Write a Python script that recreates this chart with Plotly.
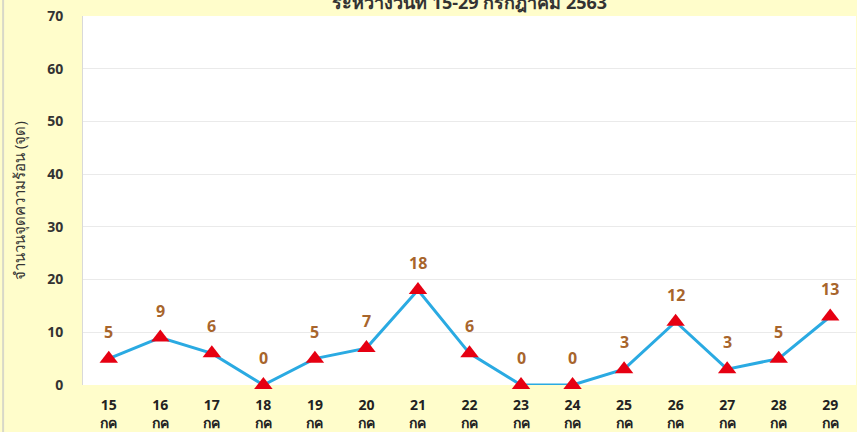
import plotly.graph_objects as go

days = ["15", "16", "17", "18", "19", "20", "21", "22", "23", "24", "25", "26", "27", "28", "29"]
month = "กค"
hotspots = [5, 9, 6, 0, 5, 7, 18, 6, 0, 0, 3, 12, 3, 5, 13]
title_text = "ระหว่างวันที่ 15-29 กรกฎาคม 2563"
y_title = "จำนวนจุดความร้อน (จุด)"

cats = [f"{d}<br>{month}" for d in days]

fig = go.Figure()
fig.add_trace(go.Scatter(
    x=cats, y=hotspots, mode="lines+markers",
    line=dict(color="#2AAAE2", width=3),
    marker=dict(symbol="triangle-up", size=16, color="#E60012"),
    cliponaxis=False, showlegend=False,
))

value_labels = [dict(x=c, y=v, text=str(v), xref="x", yref="y", showarrow=False,
                     yshift=27, font=dict(family="Open Sans", size=16, color="#A8652C", weight="bold"))
                for c, v in zip(cats, hotspots)]

fig.update_layout(
    width=857, height=432,
    margin=dict(l=83, r=1, t=16, b=47, autoexpand=False),
    paper_bgcolor="#FFFDCB", plot_bgcolor="#FFFFFF",
    font=dict(family="Open Sans", color="#333333"),
    xaxis=dict(type="category", range=[-0.5, 14.5], showgrid=False, automargin=False,
               tickfont=dict(size=14, color="#222222", weight="bold"),
               ticks="", showline=False, zeroline=False, ticklabelstandoff=10),
    yaxis=dict(range=[0, 70], dtick=10, showgrid=True, gridcolor="#EAEAEA", automargin=False,
               tickfont=dict(size=14, color="#333333", weight="bold"),
               showline=True, linecolor="#D9D9D9", linewidth=1,
               ticks="", ticklabelstandoff=16,
               zeroline=False,
               title=dict(text=y_title, font=dict(size=15, color="#333333"), standoff=17)),
    annotations=value_labels + [dict(text=title_text, xref="paper", yref="paper", x=0.5,
                      y=1 + 14 / 369, yanchor="middle", showarrow=False,
                      font=dict(size=18, color="#333333", weight="bold"))],
    shapes=[dict(type="line", xref="paper", yref="paper", x0=-80/774, x1=-80/774,
                 y0=-47/369, y1=1 + 16/369, line=dict(color="#D8D8C8", width=2))],
)

fig.write_html("out.html", config={"displayModeBar": False},
               post_script="document.body.style.margin='0';document.body.style.padding='0';")
